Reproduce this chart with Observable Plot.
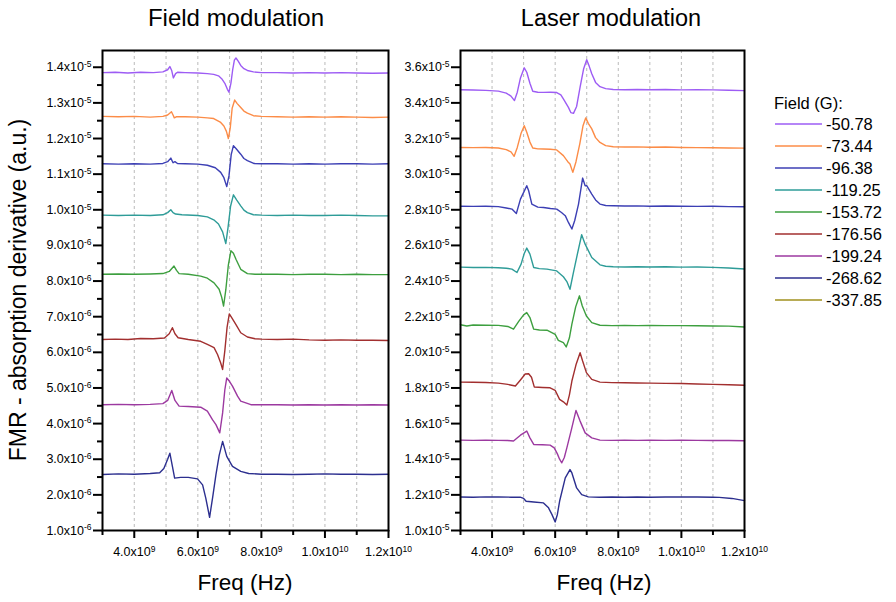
<!DOCTYPE html>
<html>
<head>
<meta charset="utf-8">
<script src="https://cdn.jsdelivr.net/npm/d3@7"></script>
<script src="https://cdn.jsdelivr.net/npm/@observablehq/plot@0.6"></script>
<style>
  body { margin: 0; background: #fff; font-family: "Liberation Sans", Arial, sans-serif; }
  #wrap { position: relative; width: 896px; height: 602px; overflow: hidden; background: #fff; }
  #wrap > div { position: absolute; white-space: nowrap; color: #000; }
</style>
</head>
<body>
<div id="wrap"></div>
<script>
// Applied field for each trace (G) and its colour
const fields = ["-50.78", "-73.44", "-96.38", "-119.25", "-153.72", "-176.56", "-199.24", "-268.62", "-337.85"];
const colors = ["#9d5cf4", "#fc8c47", "#3c3fb4", "#2e9c98", "#3d9f3f", "#a22f2f", "#9c39a0", "#2c2f8f", "#a0901e"];

// Field modulation traces: [frequency (GHz), signal (x1e-6 a.u.)]
const fm_5078 = [[3.0,13.85],[3.4,13.86],[3.8,13.84],[4.2,13.86],[4.6,13.85],[4.9,13.87],[5.05,13.93],[5.12,14.02],[5.18,13.90],[5.23,13.70],[5.30,13.82],[5.36,13.86],[5.6,13.85],[6.0,13.84],[6.3,13.82],[6.5,13.80],[6.65,13.76],[6.75,13.68],[6.85,13.55],[6.93,13.38],[6.98,13.30],[7.04,13.55],[7.10,13.95],[7.15,14.20],[7.20,14.26],[7.27,14.17],[7.35,14.05],[7.45,13.96],[7.56,13.91],[7.75,13.87],[8.0,13.85],[8.5,13.85],[9.0,13.84],[9.5,13.85],[10.0,13.84],[10.5,13.85],[11.0,13.84],[11.5,13.83],[12.0,13.84]];
const fm_7344 = [[3.0,12.62],[3.5,12.61],[4.0,12.62],[4.5,12.60],[4.9,12.62],[5.05,12.66],[5.17,12.75],[5.22,12.66],[5.26,12.58],[5.32,12.61],[5.6,12.61],[6.0,12.60],[6.3,12.58],[6.5,12.56],[6.72,12.45],[6.82,12.35],[6.90,12.20],[6.96,12.00],[7.02,12.30],[7.08,12.85],[7.16,13.08],[7.24,12.98],[7.35,12.87],[7.45,12.77],[7.56,12.71],[7.75,12.64],[8.0,12.62],[8.5,12.61],[9.0,12.60],[9.5,12.61],[10.0,12.60],[10.5,12.61],[11.0,12.60],[11.5,12.59],[12.0,12.60]];
const fm_9638 = [[3.0,11.29],[3.5,11.28],[4.0,11.29],[4.5,11.28],[4.9,11.30],[5.05,11.35],[5.15,11.45],[5.22,11.32],[5.28,11.35],[5.36,11.30],[5.6,11.29],[6.0,11.28],[6.3,11.25],[6.55,11.18],[6.72,11.05],[6.82,10.90],[6.91,10.65],[6.98,10.95],[7.05,11.55],[7.12,11.80],[7.20,11.72],[7.35,11.56],[7.45,11.44],[7.56,11.38],[7.76,11.30],[8.0,11.29],[8.5,11.29],[9.0,11.28],[9.5,11.29],[10.0,11.28],[10.5,11.29],[11.0,11.29],[11.5,11.28],[12.0,11.29]];
const fm_11925 = [[3.0,9.85],[3.5,9.84],[4.0,9.85],[4.5,9.84],[4.9,9.86],[5.05,9.92],[5.15,10.00],[5.22,9.92],[5.30,9.88],[5.5,9.86],[6.0,9.84],[6.3,9.80],[6.5,9.72],[6.65,9.60],[6.78,9.38],[6.88,9.05],[6.95,9.50],[7.03,10.10],[7.12,10.42],[7.22,10.28],[7.35,10.11],[7.45,9.99],[7.56,9.92],[7.75,9.86],[8.0,9.85],[8.5,9.84],[9.0,9.85],[9.5,9.84],[10.0,9.84],[10.5,9.85],[11.0,9.84],[11.5,9.83],[12.0,9.83]];
const fm_15372 = [[3.0,8.19],[3.5,8.20],[4.0,8.19],[4.5,8.20],[4.9,8.21],[5.1,8.27],[5.25,8.42],[5.33,8.30],[5.41,8.21],[5.7,8.19],[6.09,8.14],[6.3,8.08],[6.51,7.95],[6.67,7.77],[6.75,7.55],[6.81,7.30],[6.88,7.75],[6.96,8.45],[7.04,8.85],[7.12,8.78],[7.20,8.61],[7.35,8.33],[7.56,8.21],[7.8,8.19],[8.0,8.19],[8.5,8.19],[9.0,8.18],[9.5,8.19],[10.0,8.19],[10.5,8.18],[11.0,8.19],[11.5,8.18],[12.0,8.18]];
const fm_17656 = [[3.0,6.36],[3.4,6.37],[3.8,6.36],[4.2,6.39],[4.6,6.38],[4.95,6.40],[5.1,6.52],[5.2,6.69],[5.28,6.52],[5.38,6.41],[5.7,6.36],[6.09,6.31],[6.3,6.22],[6.51,6.13],[6.62,5.94],[6.72,5.70],[6.78,5.52],[6.85,6.05],[6.92,6.70],[6.99,7.08],[7.08,6.95],[7.20,6.78],[7.35,6.55],[7.56,6.43],[7.8,6.38],[8.0,6.37],[8.5,6.36],[9.0,6.37],[9.5,6.35],[10.0,6.34],[10.5,6.35],[11.0,6.34],[11.5,6.34],[12.0,6.33]];
const fm_19924 = [[3.0,4.53],[3.5,4.54],[4.0,4.53],[4.5,4.54],[4.9,4.56],[5.05,4.65],[5.18,4.93],[5.28,4.65],[5.41,4.49],[5.7,4.48],[6.09,4.46],[6.3,4.35],[6.46,4.11],[6.57,3.97],[6.69,3.74],[6.78,4.30],[6.85,4.95],[6.91,5.28],[7.0,5.18],[7.09,5.05],[7.25,4.77],[7.35,4.63],[7.67,4.53],[8.0,4.53],[8.5,4.53],[9.0,4.52],[9.5,4.53],[10.0,4.52],[10.5,4.53],[11.0,4.52],[11.5,4.53],[12.0,4.52]];
const fm_26862 = [[3.0,2.57],[3.5,2.59],[4.0,2.58],[4.5,2.60],[4.8,2.62],[4.93,2.74],[5.05,3.00],[5.12,3.17],[5.2,2.80],[5.27,2.47],[5.46,2.49],[5.7,2.49],[5.99,2.45],[6.15,2.28],[6.25,1.91],[6.37,1.37],[6.47,1.95],[6.57,2.57],[6.67,3.10],[6.78,3.50],[6.91,3.08],[7.09,2.80],[7.35,2.66],[7.6,2.60],[8.0,2.58],[8.5,2.58],[9.0,2.57],[9.5,2.58],[10.0,2.59],[10.5,2.58],[11.0,2.58],[11.5,2.57],[12.0,2.58]];

// Laser modulation traces: [frequency (GHz), signal (x1e-6 a.u.)]
const lm_5078 = [[3.0,34.74],[3.4,34.72],[3.8,34.70],[4.2,34.66],[4.45,34.55],[4.6,34.38],[4.71,34.13],[4.8,34.60],[4.9,35.40],[5.02,35.97],[5.1,35.72],[5.2,35.10],[5.29,34.65],[5.45,34.60],[5.63,34.59],[5.85,34.60],[6.05,34.58],[6.18,34.45],[6.26,34.22],[6.42,33.75],[6.50,33.45],[6.58,33.41],[6.68,33.80],[6.79,34.88],[6.9,35.90],[7.0,36.42],[7.08,36.05],[7.16,35.63],[7.28,35.15],[7.42,34.91],[7.6,34.80],[7.84,34.75],[8.2,34.74],[8.6,34.75],[9.0,34.74],[9.5,34.75],[10.0,34.73],[10.5,34.74],[11.0,34.73],[11.5,34.71],[12.0,34.69]];
const lm_7344 = [[3.0,31.50],[3.4,31.49],[3.8,31.50],[4.2,31.47],[4.45,31.38],[4.6,31.25],[4.70,31.00],[4.8,31.50],[4.92,32.30],[5.02,32.72],[5.1,32.35],[5.2,31.80],[5.29,31.47],[5.45,31.42],[5.63,31.41],[5.85,31.40],[6.05,31.36],[6.26,31.04],[6.40,30.70],[6.47,30.57],[6.56,30.10],[6.66,30.70],[6.78,31.70],[6.88,32.70],[6.97,33.16],[7.05,32.85],[7.16,32.54],[7.28,32.05],[7.42,31.78],[7.6,31.60],[7.84,31.54],[8.2,31.52],[8.6,31.53],[9.0,31.51],[9.5,31.52],[10.0,31.50],[10.5,31.49],[11.0,31.48],[11.5,31.47],[12.0,31.46]];
const lm_9638 = [[3.0,28.20],[3.4,28.19],[3.8,28.20],[4.2,28.18],[4.45,28.10],[4.63,28.04],[4.77,27.79],[4.9,28.60],[5.02,29.05],[5.1,29.35],[5.16,29.07],[5.26,28.32],[5.45,28.15],[5.63,28.13],[5.85,28.07],[6.05,28.04],[6.20,27.85],[6.32,27.67],[6.42,27.29],[6.53,26.92],[6.62,27.40],[6.74,28.32],[6.87,29.78],[6.95,29.35],[7.0,29.35],[7.16,28.88],[7.28,28.55],[7.42,28.32],[7.6,28.24],[7.84,28.23],[8.2,28.21],[8.6,28.22],[9.0,28.20],[9.5,28.21],[10.0,28.20],[10.5,28.19],[11.0,28.20],[11.5,28.18],[12.0,28.17]];
const lm_11925 = [[3.0,24.78],[3.4,24.76],[3.8,24.77],[4.2,24.75],[4.45,24.72],[4.63,24.67],[4.79,24.48],[4.92,24.95],[5.02,25.55],[5.1,25.85],[5.2,25.51],[5.32,24.76],[5.5,24.70],[5.74,24.67],[6.05,24.57],[6.26,24.24],[6.37,23.97],[6.47,23.54],[6.57,24.40],[6.68,25.32],[6.84,26.60],[6.95,26.07],[7.16,25.32],[7.42,24.91],[7.6,24.83],[7.84,24.80],[8.2,24.79],[8.6,24.80],[9.0,24.79],[9.5,24.80],[10.0,24.78],[10.5,24.79],[11.0,24.77],[11.5,24.73],[12.0,24.68]];
const lm_15372 = [[3.0,21.55],[3.2,21.48],[3.4,21.53],[3.8,21.52],[4.2,21.51],[4.5,21.45],[4.68,21.30],[4.85,21.75],[5.0,22.10],[5.1,22.23],[5.2,21.95],[5.32,21.30],[5.5,21.25],[5.74,21.24],[6.0,21.01],[6.1,20.67],[6.26,20.54],[6.35,20.30],[6.45,20.80],[6.53,21.58],[6.65,22.55],[6.77,23.17],[6.86,22.60],[6.99,22.04],[7.16,21.67],[7.42,21.52],[7.8,21.50],[8.2,21.51],[8.6,21.50],[9.0,21.51],[9.5,21.50],[10.0,21.50],[10.5,21.49],[11.0,21.48],[11.5,21.47],[12.0,21.42]];
const lm_17656 = [[3.0,18.33],[3.4,18.32],[3.8,18.31],[4.2,18.27],[4.5,18.20],[4.74,18.11],[4.9,18.45],[5.05,18.78],[5.16,18.80],[5.25,18.60],[5.34,18.05],[5.6,18.03],[5.84,18.01],[6.0,17.87],[6.14,17.36],[6.26,17.22],[6.37,17.04],[6.45,17.60],[6.53,18.39],[6.66,19.30],[6.79,19.98],[6.87,19.51],[6.99,18.86],[7.16,18.48],[7.42,18.33],[7.8,18.30],[8.2,18.29],[8.6,18.28],[9.0,18.27],[9.5,18.26],[10.0,18.25],[10.5,18.22],[11.0,18.20],[11.5,18.18],[12.0,18.15]];
const lm_19924 = [[3.0,15.07],[3.4,15.06],[3.8,15.07],[4.2,15.06],[4.5,15.05],[4.68,15.02],[4.9,15.35],[5.1,15.58],[5.2,15.20],[5.32,14.83],[5.6,14.81],[5.84,14.79],[5.97,14.64],[6.07,14.30],[6.14,14.00],[6.21,13.80],[6.29,14.10],[6.37,14.64],[6.52,15.70],[6.66,16.74],[6.79,16.14],[6.95,15.48],[7.16,15.20],[7.42,15.07],[7.8,15.06],[8.2,15.07],[8.6,15.06],[9.0,15.07],[9.5,15.06],[10.0,15.07],[10.5,15.06],[11.0,15.05],[11.5,15.05],[12.0,15.04]];
const lm_26862 = [[3.0,11.88],[3.4,11.87],[3.8,11.89],[4.2,11.88],[4.6,11.87],[4.89,11.87],[5.0,11.80],[5.08,11.64],[5.32,11.60],[5.63,11.55],[5.79,11.27],[5.90,10.89],[6.0,10.48],[6.07,10.90],[6.14,11.64],[6.32,12.95],[6.47,13.42],[6.53,13.23],[6.68,12.39],[6.84,12.01],[7.05,11.89],[7.4,11.87],[7.8,11.88],[8.2,11.87],[8.6,11.88],[9.0,11.87],[9.5,11.88],[10.05,11.89],[10.5,11.88],[11.0,11.87],[11.2,11.86],[11.6,11.80],[12.0,11.68]];

// Axis ticks
const xMajor = [4e9, 6e9, 8e9, 1e10, 1.2e10];
const xMinor = [3e9, 5e9, 7e9, 9e9, 1.1e10];
const xGrid = [4e9, 5e9, 6e9, 7e9, 8e9, 9e9, 1e10, 1.1e10];
const fieldYMajor = [1e-6, 2e-6, 3e-6, 4e-6, 5e-6, 6e-6, 7e-6, 8e-6, 9e-6, 1e-5, 1.1e-5, 1.2e-5, 1.3e-5, 1.4e-5];
const fieldYMinor = [1.5e-6, 2.5e-6, 3.5e-6, 4.5e-6, 5.5e-6, 6.5e-6, 7.5e-6, 8.5e-6, 9.5e-6, 1.05e-5, 1.15e-5, 1.25e-5, 1.35e-5];
const laserYMajor = [1.0e-5, 1.2e-5, 1.4e-5, 1.6e-5, 1.8e-5, 2.0e-5, 2.2e-5, 2.4e-5, 2.6e-5, 2.8e-5, 3.0e-5, 3.2e-5, 3.4e-5, 3.6e-5];
const laserYMinor = [1.1e-5, 1.3e-5, 1.5e-5, 1.7e-5, 1.9e-5, 2.1e-5, 2.3e-5, 2.5e-5, 2.7e-5, 2.9e-5, 3.1e-5, 3.3e-5, 3.5e-5];

const fieldSeries = [fm_5078, fm_7344, fm_9638, fm_11925, fm_15372, fm_17656, fm_19924, fm_26862];
const laserSeries = [lm_5078, lm_7344, lm_9638, lm_11925, lm_15372, lm_17656, lm_19924, lm_26862];

const FONT = "'Liberation Sans', Arial, sans-serif";

// "4.0x10^9" style labels; the exponent is turned into a superscript after rendering
function sciFmt(v) {
  const e = Math.floor(Math.log10(v) + 1e-9);
  const m = v / Math.pow(10, e);
  return m.toFixed(1) + "x10^" + e;
}

function toRows(series) {
  const rows = [];
  series.forEach((s, i) => s.forEach(([g, u]) => rows.push({freq: g * 1e9, sig: u * 1e-6, field: fields[i]})));
  return rows;
}

function panel({series, yDomain, yMajor, yMinor, width, marginLeft, marginRight}) {
  const chart = Plot.plot({
    width, height: 602,
    marginLeft, marginRight, marginTop: 50, marginBottom: 72,
    style: `background: transparent; overflow: visible; font-family: ${FONT};`,
    x: {domain: [3e9, 1.2e10], axis: null},
    y: {domain: yDomain, axis: null},
    color: {domain: fields, range: colors},
    marks: [
      Plot.gridX(xGrid, {stroke: "#a8a8a8", strokeOpacity: 1, strokeWidth: 0.8, strokeDasharray: "3,3"}),
      Plot.line(toRows(series), {x: "freq", y: "sig", z: "field", stroke: "field", strokeWidth: 1.4}),
      Plot.axisX(xMajor, {anchor: "bottom", tickSize: 8, tickPadding: 9, strokeWidth: 2, stroke: "#000",
        tickFormat: sciFmt, fontSize: 12.5, fill: "#000", label: null}),
      Plot.axisX(xMinor, {anchor: "bottom", tickSize: 5, strokeWidth: 2, stroke: "#000", tickFormat: () => "", label: null}),
      Plot.axisY(yMajor, {anchor: "left", tickSize: 9, tickPadding: 2, strokeWidth: 2, stroke: "#000",
        tickFormat: sciFmt, fontSize: 12.5, fill: "#000", label: null}),
      Plot.axisY(yMinor, {anchor: "left", tickSize: 5, strokeWidth: 2, stroke: "#000", tickFormat: () => "", label: null}),
      Plot.frame({stroke: "#000", strokeWidth: 2})
    ]
  });
  // superscript exponents in tick labels
  d3.select(chart).selectAll("text").each(function () {
    const t = this.textContent;
    if (!t.includes("^")) return;
    const [base, exp] = t.split("^");
    this.textContent = "";
    const sel = d3.select(this);
    sel.append("tspan").text(base);
    sel.append("tspan").attr("font-size", 8.5).attr("dy", "-0.5em").text(exp);
  });
  return chart;
}

const wrap = document.getElementById("wrap");
function addDiv(css, content) {
  const d = document.createElement("div");
  Object.assign(d.style, css);
  if (content !== undefined) d.textContent = content;
  wrap.appendChild(d);
  return d;
}

// Panels
const left = addDiv({left: "0px", top: "0px", width: "400px", height: "602px"});
left.appendChild(panel({series: fieldSeries, yDomain: [1e-6, 1.447e-5], yMajor: fieldYMajor, yMinor: fieldYMinor,
  width: 400, marginLeft: 102, marginRight: 12}));
const right = addDiv({left: "400px", top: "0px", width: "360px", height: "602px"});
right.appendChild(panel({series: laserSeries, yDomain: [1e-5, 3.694e-5], yMajor: laserYMajor, yMinor: laserYMinor,
  width: 360, marginLeft: 60, marginRight: 16}));

// Titles
addDiv({left: "136px", top: "6px", width: "200px", textAlign: "center", fontSize: "24px", lineHeight: "24px"}, "Field modulation");
addDiv({left: "511px", top: "6px", width: "200px", textAlign: "center", fontSize: "23.5px", lineHeight: "24px"}, "Laser modulation");

// Axis labels
addDiv({left: "145px", top: "572px", width: "200px", textAlign: "center", fontSize: "22.5px", lineHeight: "22px"}, "Freq (Hz)");
addDiv({left: "504px", top: "572px", width: "200px", textAlign: "center", fontSize: "22.5px", lineHeight: "22px"}, "Freq (Hz)");
addDiv({left: "-182px", top: "278px", width: "400px", textAlign: "center", fontSize: "23px", lineHeight: "24px",
  transform: "rotate(-90deg)"}, "FMR - absorption derivative (a.u.)");

// Legend
addDiv({left: "774px", top: "94px", fontSize: "16.5px", lineHeight: "18px"}, "Field (G):");
fields.forEach((f, i) => {
  const cy = 124 + 22 * i;
  const sw = addDiv({left: "775px", top: (cy - 1) + "px", width: "47px", height: "2px"});
  sw.innerHTML = `<svg width="47" height="2" style="display:block"><line x1="0" y1="1" x2="47" y2="1" stroke="${colors[i]}" stroke-width="1.6"/></svg>`;
  addDiv({left: "826px", top: (cy - 9) + "px", fontSize: "16.5px", lineHeight: "18px"}, f);
});
</script>
</body>
</html>
